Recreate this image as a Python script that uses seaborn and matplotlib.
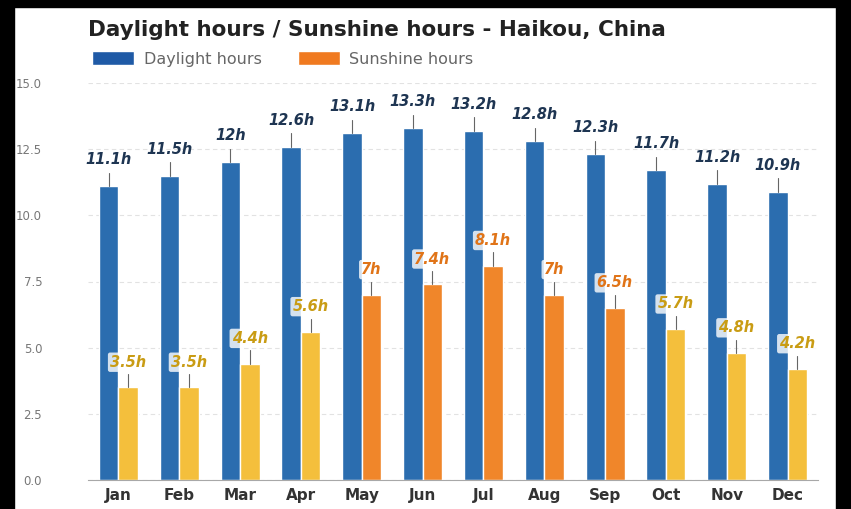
import pandas as pd
import seaborn as sns
import matplotlib.pyplot as plt
from matplotlib.patches import Rectangle, Patch

# Data
months = ['Jan', 'Feb', 'Mar', 'Apr', 'May', 'Jun',
          'Jul', 'Aug', 'Sep', 'Oct', 'Nov', 'Dec']
daylight = [11.1, 11.5, 12.0, 12.6, 13.1, 13.3, 13.2, 12.8, 12.3, 11.7, 11.2, 10.9]
sunshine = [3.5, 3.5, 4.4, 5.6, 7.0, 7.4, 8.1, 7.0, 6.5, 5.7, 4.8, 4.2]
yticks = [0.0, 2.5, 5.0, 7.5, 10.0, 12.5, 15.0]

df = pd.DataFrame({
    'month': months * 2,
    'hours': daylight + sunshine,
    'series': ['Daylight hours'] * 12 + ['Sunshine hours'] * 12,
})

blue = '#2b6daf'
orange = '#f0862a'
yellow = '#f4bf3c'

sns.set_style("white")
plt.rcParams['font.family'] = ['DejaVu Sans']

fig = plt.figure(figsize=(8.51, 5.09), dpi=100)
ax = fig.add_axes([88 / 851, 1 - 480 / 509, 730 / 851, (480 - 83) / 509])

sns.barplot(data=df, x='month', y='hours', hue='series',
            palette=[blue, orange], saturation=1, width=0.64, gap=0,
            legend=False, ax=ax)

# sunshine bars shade from yellow to orange with the value
sun_bars = ax.containers[1]
sun_cols = [orange if v >= 6 else yellow for v in sunshine]
for bar, c in zip(sun_bars, sun_cols):
    bar.set_facecolor(c)

# whiskers + value labels
for bar, v in zip(ax.containers[0], daylight):
    x = bar.get_x() + bar.get_width() / 2
    ax.plot([x, x], [v, v + 0.5], color='#666666', lw=0.8, zorder=3)
    ax.text(x, v + 1.0, f'{v:g}h', ha='center', va='center', fontsize=10.5,
            fontweight='bold', fontstyle='italic', color='#1e3552', zorder=4)

for bar, v, c in zip(sun_bars, sunshine, sun_cols):
    x = bar.get_x() + bar.get_width() / 2
    tc = '#e07418' if c == orange else '#c99c14'
    ax.plot([x, x], [v, v + 0.5], color='#666666', lw=0.8, zorder=3)
    ax.text(x, v + 0.95, f'{v:g}h', ha='center', va='center', fontsize=10.5,
            fontweight='bold', fontstyle='italic', color=tc, zorder=4,
            bbox=dict(boxstyle='round,pad=0.15', fc='white', ec='none', alpha=0.8))

ax.set_xlim(-0.5, 11.5)
ax.set_ylim(0, 15)
ax.set_yticks(yticks)
ax.set_yticklabels([f'{t:.1f}' for t in yticks])
ax.set_xlabel('')
ax.set_ylabel('')
ax.yaxis.grid(True, color='#e2e2e2', linestyle=(0, (4, 3)), lw=0.8)
ax.set_axisbelow(True)
for s in ['top', 'right', 'left']:
    ax.spines[s].set_visible(False)
ax.spines['bottom'].set_color('#a8a8a8')
ax.tick_params(axis='y', length=0, pad=33, labelsize=8.5, labelcolor='#777777')
ax.tick_params(axis='x', length=0, pad=6, labelsize=11, labelcolor='#333333')
for lab in ax.get_xticklabels():
    lab.set_fontweight('bold')

fig.text(88 / 851, 1 - 30 / 509, 'Daylight hours / Sunshine hours - Haikou, China',
         fontsize=15.5, fontweight='bold', color='#222222', va='center', ha='left')

handles = [Patch(facecolor='#1f5aa6', label='Daylight hours'),
           Patch(facecolor='#f07a20', label='Sunshine hours')]
fig.legend(handles=handles, loc='center left', bbox_to_anchor=(86 / 851, 1 - 59 / 509),
           ncol=2, frameon=False, fontsize=11.5, handlelength=2.6, handleheight=0.9,
           handletextpad=0.6, columnspacing=2.3, labelcolor='#666666', borderaxespad=0)

# dark frame edges of the screenshot
fig.patches.append(Rectangle((0, 0), 14 / 851, 1, transform=fig.transFigure, color='black'))
fig.patches.append(Rectangle((0, 1 - 7 / 509), 1, 7 / 509, transform=fig.transFigure, color='black'))
fig.patches.append(Rectangle((1 - 15 / 851, 0), 15 / 851, 1, transform=fig.transFigure, color='black'))

fig.savefig('out.png', dpi=100)
